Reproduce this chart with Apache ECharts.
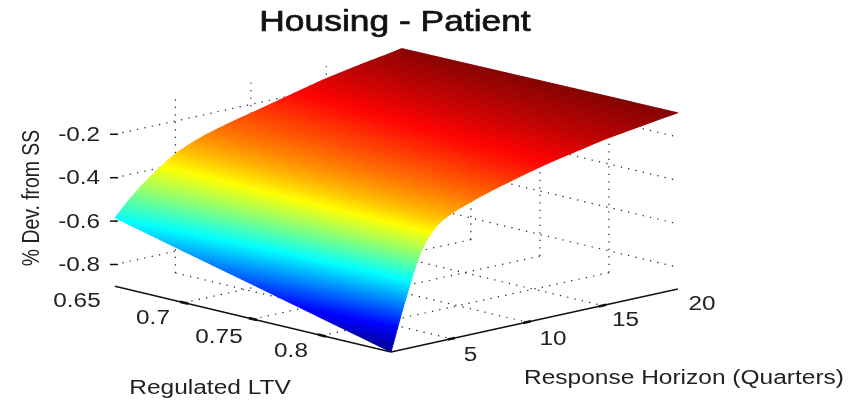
<!DOCTYPE html>
<html><head><meta charset="utf-8">
<style>html,body{margin:0;padding:0;background:#fff}#c{width:858px;height:401px}</style>
<script src="https://cdn.jsdelivr.net/npm/echarts@6/dist/echarts.min.js"></script></head>
<body><div id="c"></div>
<script>
// ---- data ----
const ltv = [0.65, 0.70, 0.75, 0.80, 0.85];
const horizon = [1,2,3,4,5,6,7,8,9,10,11,12,13,14,15,16,17,18,19,20];
const devLtv65 = [-.585,-.512,-.45,-.397,-.352,-.32,-.295,-.275,-.257,-.241,-.224,-.207,-.19,-.173,-.157,-.144,-.131,-.119,-.108,-.095];
const devLtv70 = [-.664,-.55,-.454,-.39,-.345,-.314,-.289,-.269,-.25,-.234,-.217,-.2,-.184,-.167,-.152,-.14,-.127,-.116,-.105,-.093];
const devLtv75 = [-.742,-.588,-.459,-.382,-.337,-.308,-.283,-.263,-.244,-.227,-.21,-.193,-.178,-.162,-.147,-.135,-.124,-.113,-.102,-.091];
const devLtv80 = [-.821,-.627,-.464,-.375,-.33,-.302,-.277,-.257,-.238,-.22,-.203,-.187,-.172,-.157,-.142,-.131,-.12,-.11,-.1,-.089];
const devLtv85 = [-.90,-.665,-.468,-.368,-.323,-.296,-.272,-.251,-.232,-.213,-.196,-.18,-.166,-.152,-.138,-.127,-.117,-.107,-.097,-.088];
const zTicks = [-0.2,-0.4,-0.6,-0.8];
const ltvTicks = [0.65,0.7,0.75,0.8];
const horizonTicks = [5,10,15,20];
const zMin = -0.9, zTop = -0.1;
const rows = [devLtv65,devLtv70,devLtv75,devLtv80,devLtv85];
const ltvMax = 0.85, hMin = 1;

// oblique projection of (ltv, horizon, z) into the plot's 2-D value space
function proj(l,h,z){
  const k=(ltvMax-l)/0.05, m=h-hMin;
  return [391+15.1*m-69*k, 352-3.316*m-16.45*k-(z-zMin)*217];
}
const stops=[[0,0,0,.5625],[.125,0,0,1],[.375,0,1,1],[.625,1,1,0],[.875,1,0,0],[1,.5,0,0]];
function jet(z){
  const zLo=-0.9,zHi=-0.088; let t=Math.max(0,Math.min(1,(z-zLo)/(zHi-zLo)));
  for(let i=1;i<stops.length;i++){ if(t<=stops[i][0]){
    const a=stops[i-1],b=stops[i],f=(t-a[0])/(b[0]-a[0]);
    return 'rgb('+[1,2,3].map(c=>Math.round(255*(a[c]+(b[c]-a[c])*f))).join(',')+')';
  }}
  return 'rgb(128,0,0)';
}
const cells=[];
for(let hi=horizon.length-2;hi>=0;hi--) for(let li=0;li<ltv.length-1;li++) cells.push([li,hi]);

// interp-style shading: smooth curve through a row's values within a cell
function rowAt(r,hi,u){
  const n=r.length, p1=r[hi], p2=r[hi+1];
  const p0=hi>0?r[hi-1]:2*p1-p2, p3=hi+2<n?r[hi+2]:2*p2-p1;
  return 0.5*((2*p1)+(-p0+p2)*u+(2*p0-5*p1+4*p2-p3)*u*u+(-p0+3*p1-3*p2+p3)*u*u*u);
}
function renderCell(params,api){
  const li=api.value(0),hi=api.value(1),ch=[];
  const l0=ltv[li],l1=ltv[li+1],h0=horizon[hi],h1=horizon[hi+1];
  const ra=rows[li],rb=rows[li+1];
  const subU=Math.ceil(Math.max(Math.abs(ra[hi+1]-ra[hi]),Math.abs(rb[hi+1]-rb[hi]))/0.004)+4;
  const subV=Math.ceil(Math.max(Math.abs(rb[hi]-ra[hi]),Math.abs(rb[hi+1]-ra[hi+1]))/0.005)+3;
  const P=(u,v)=>{
    const z=rowAt(ra,hi,u)*(1-v)+rowAt(rb,hi,u)*v;
    return {z,p:api.coord(proj(l0+(l1-l0)*v,h0+(h1-h0)*u,z))};
  };
  for(let i=subU-1;i>=0;i--)for(let j=0;j<subV;j++){
    const q=[P(i/subU,j/subV),P((i+1)/subU,j/subV),P((i+1)/subU,(j+1)/subV),P(i/subU,(j+1)/subV)];
    const col=jet((q[0].z+q[1].z+q[2].z+q[3].z)/4);
    ch.push({type:'polygon',shape:{points:q.map(o=>o.p)},style:{fill:col,stroke:col,lineWidth:0.8},silent:true});
  }
  return {type:'group',children:ch};
}
// dotted wall and floor grid
const dots=[];
zTicks.forEach(z=>{ dots.push([[ltv[0],1,z],[ltv[0],20,z]]); dots.push([[ltv[0],20,z],[ltvMax,20,z]]); });
[5,10,15].forEach(h=>{ dots.push([[ltv[0],h,zMin],[ltv[0],h,zTop]]); dots.push([[ltv[0],h,zMin],[ltvMax,h,zMin]]); });
[.7,.75,.8].forEach(l=>{ dots.push([[l,20,zMin],[l,20,zTop]]); dots.push([[l,1,zMin],[l,20,zMin]]); });
// solid front edges
const edges=[[[ltv[0],1,zMin],[ltvMax,1,zMin]],[[ltvMax,1,zMin],[ltvMax,20,zMin]]];
function renderSeg(style){return function(params,api){
  const s=api.value(0), seg=style.src[s];
  const a=api.coord(proj(...seg[0])),b=api.coord(proj(...seg[1]));
  return {type:'line',shape:{x1:a[0],y1:a[1],x2:b[0],y2:b[1]},
    style:{stroke:style.color,lineWidth:style.width,lineDash:style.dash||null},silent:true};
};}
// tick marks: short thick runs along the axes
const tickMarks=[];
[.7,.75,.8].forEach(l=>tickMarks.push([[l-.003,1,zMin],[l+.003,1,zMin]]));
[5,10,15].forEach(h=>tickMarks.push([[ltvMax,h-.25,zMin],[ltvMax,h+.25,zMin]]));
const labels=[];
const T='#222';
const SX=1.215;
zTicks.forEach(z=>{const p=proj(ltv[0],1,z);labels.push({p:[p[0]-15,p[1]+1],t:String(z),a:'right',s:20,sx:SX});});
const ltvOff=[[-38,15],[-31,16],[-34,18],[-31,16]];
ltvTicks.forEach((l,i)=>{const p=proj(l,1,zMin);labels.push({p:[p[0]+ltvOff[i][0],p[1]+ltvOff[i][1]],t:String(l),a:'center',s:20,sx:SX});});
const hOff=[[19,17],[26,17],[23,15],[24,15]];
horizonTicks.forEach((h,i)=>{const p=proj(ltvMax,h,zMin);labels.push({p:[p[0]+hOff[i][0],p[1]+hOff[i][1]],t:String(h),a:'center',s:20,sx:SX});});
labels.push({p:[210,388],t:'Regulated LTV',a:'center',s:20,sx:1.225});
labels.push({p:[684,378],t:'Response Horizon (Quarters)',a:'center',s:20,sx:1.225});
labels.push({p:[32,198],t:'% Dev. from SS',a:'center',s:19.4,sy:1.25,r:Math.PI/2});
labels.push({p:[395,23],t:'Housing - Patient',a:'center',s:29,sx:1.22,b:0.7,c:'#111'});
const tickDashes=zTicks.map(z=>{const p=proj(ltv[0],1,z);return [[p[0]-5,p[1]],[p[0]+3,p[1]]];});

function segSeries(src,color,width,dash,z){
  return {type:'custom',coordinateSystem:'cartesian2d',silent:true,animation:false,z,
    data:src.map((_,i)=>[i]),encode:{x:0,y:0},clip:false,renderItem:renderSeg({src,color,width,dash})};
}
const chart=echarts.init(document.getElementById('c'),null,{renderer:'canvas'});
chart.setOption({
  animation:false,backgroundColor:'#fff',
  tooltip:{show:false},
  grid:{left:0,right:0,top:0,bottom:0},
  xAxis:{type:'value',min:0,max:858,show:false},
  yAxis:{type:'value',min:0,max:401,inverse:true,show:false},
  series:[
    segSeries(dots,'#222',1.2,[1.3,6.2],1),
    segSeries(edges,'#111',1.5,null,2),
    segSeries(tickMarks,'#111',2.6,null,2),
    {type:'custom',coordinateSystem:'cartesian2d',silent:true,animation:false,z:3,clip:false,
     data:cells,encode:{x:0,y:1},renderItem:renderCell},
    {type:'custom',coordinateSystem:'cartesian2d',silent:true,animation:false,z:2,clip:false,
     data:tickDashes.map((_,i)=>[i]),encode:{x:0,y:0},
     renderItem:function(params,api){const s=tickDashes[api.value(0)];const a=api.coord(s[0]),b=api.coord(s[1]);
       return {type:'line',shape:{x1:a[0],y1:a[1],x2:b[0],y2:b[1]},style:{stroke:'#111',lineWidth:1.5},silent:true};}},
    {type:'custom',coordinateSystem:'cartesian2d',silent:true,animation:false,z:4,clip:false,
     data:labels.map((_,i)=>[i]),encode:{x:0,y:0},
     renderItem:function(params,api){const L=labels[api.value(0)];const c=api.coord(L.p);
       return {type:'text',x:c[0],y:c[1],rotation:L.r||0,scaleX:L.sx||1,scaleY:L.sy||1,silent:true,
         style:{text:L.t,fill:L.c||T,stroke:L.b?(L.c||T):null,lineWidth:L.b||0,font:L.s+'px "Liberation Sans"',textAlign:L.a,textVerticalAlign:'middle'}};}}
  ]
});
</script></body></html>
